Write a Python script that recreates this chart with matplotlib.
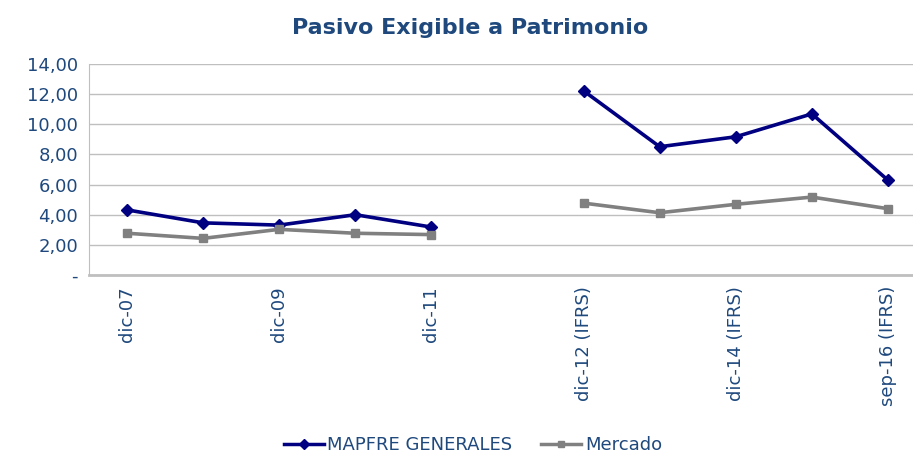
import matplotlib.pyplot as plt
from matplotlib.lines import Line2D
import numpy as np

categories = ['dic-07', 'dic-08', 'dic-09', 'dic-10', 'dic-11', '',
              'dic-12 (IFRS)', 'dic-13 (IFRS)', 'dic-14 (IFRS)', 'dic-15 (IFRS)', 'sep-16 (IFRS)']
mapfre = [4.32, 3.46, 3.31, 4.00, 3.18, np.nan, 12.22, 8.51, 9.17, 10.69, 6.29]
mercado = [2.77, 2.43, 3.03, 2.77, 2.68, np.nan, 4.77, 4.13, 4.69, 5.17, 4.40]
yticks = [0, 2, 4, 6, 8, 10, 12, 14]
ytick_labels = ['-', '2,00', '4,00', '6,00', '8,00', '10,00', '12,00', '14,00']

text_color = '#1F497D'

fig = plt.figure(figsize=(9.13, 4.54), dpi=100)
ax = fig.add_axes([89 / 913, 1 - 275 / 454, 837 / 913, 211 / 454])

x = np.arange(len(categories))
ax.plot(x, mapfre, color='#000080', lw=2.6, marker='D', ms=6)
ax.plot(x, mercado, color='#808080', lw=2.6, marker='s', ms=6)

ax.set_xlim(-0.5, len(categories) - 0.5)
ax.set_ylim(0, 14)
ax.set_yticks(yticks)
ax.set_yticklabels(ytick_labels, color=text_color, fontsize=13)
ax.set_xticks(x[::2])
ax.set_xticklabels(categories[::2], rotation=90, color=text_color, fontsize=13)
ax.tick_params(length=0, pad=8)
ax.yaxis.grid(True, color='#BFBFBF', lw=1)
ax.set_axisbelow(True)
for s in ['top', 'right']:
    ax.spines[s].set_visible(False)
ax.spines['left'].set_color('#BFBFBF')
ax.spines['bottom'].set_color('#BFBFBF')
ax.spines['bottom'].set_linewidth(2)

fig.text(470 / 913, 1 - 28 / 454, 'Pasivo Exigible a Patrimonio', ha='center', va='center',
         fontsize=16, fontweight='bold', color=text_color)

handles = [Line2D([], [], color='#000080', lw=2.5, marker='D', ms=5),
           Line2D([], [], color='#808080', lw=2.5, marker='s', ms=5)]
fig.legend(handles, ['MAPFRE GENERALES', 'Mercado'], loc='center',
           bbox_to_anchor=(473 / 913, 1 - 445 / 454), ncol=2, frameon=False,
           fontsize=13, labelcolor=text_color, handlelength=2.2, handletextpad=0.2,
           columnspacing=1.6)

fig.savefig('out.png', dpi=100)
